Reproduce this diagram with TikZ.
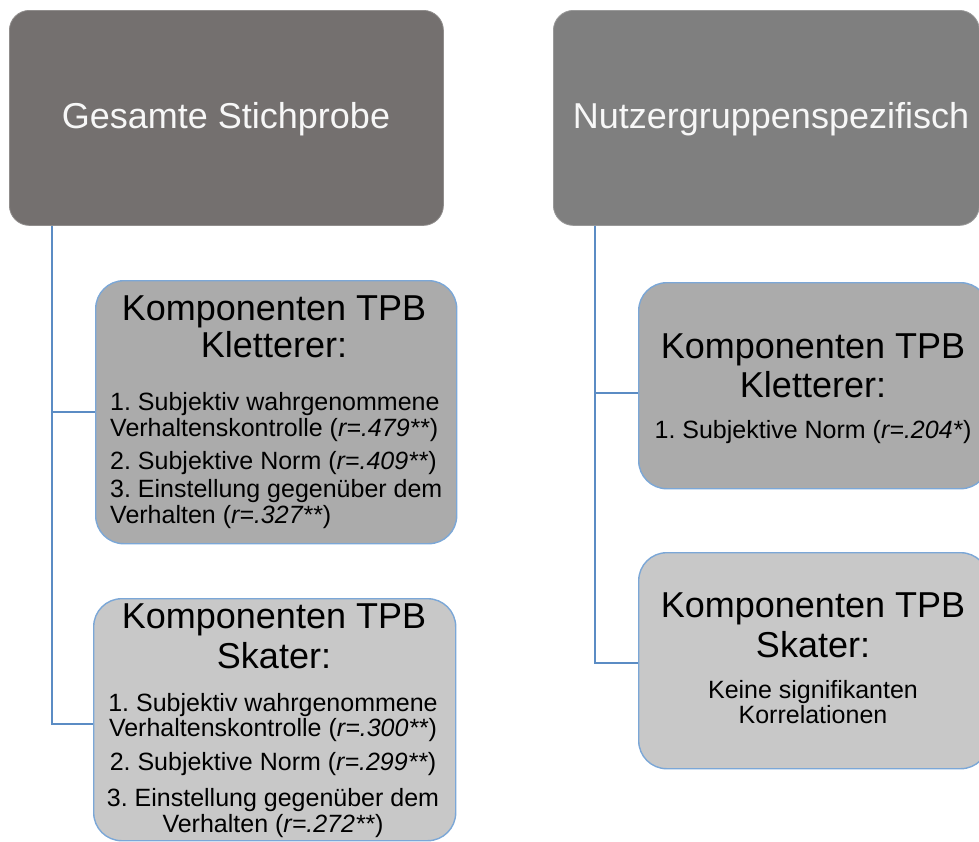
\documentclass[tikz,border=0pt]{standalone}
\usepackage{fontspec}
\setmainfont{Liberation Sans}
\frenchspacing
\definecolor{headA}{HTML}{74706F}
\definecolor{headB}{HTML}{7F7F7F}
\definecolor{boxK}{HTML}{ABABAB}
\definecolor{boxS}{HTML}{C8C8C8}
\definecolor{edgeblue}{HTML}{7BA7D7}
\definecolor{wireblue}{HTML}{5B8CC4}
\begin{document}
\begin{tikzpicture}[x=1pt,y=-1pt,
  headbox/.style={rectangle, rounded corners=20pt, anchor=north west, inner sep=0pt,
    fill=#1, draw=#1!80!white, line width=0.8pt},
  subbox/.style={rectangle, rounded corners=28pt, anchor=north west, inner sep=0pt,
    fill=#1, draw=edgeblue, line width=1.4pt},
  headtxt/.style={anchor=base, inner sep=0pt, text=white!97!black,
    font=\fontsize{36}{40}\selectfont},
  titletxt/.style={anchor=base, inner sep=0pt, font=\fontsize{36}{40}\selectfont},
  itemtxt/.style={anchor=base, inner sep=0pt, font=\fontsize{25}{27}\selectfont},
  leftitem/.style={itemtxt, anchor=base west},
  wire/.style={draw=wireblue, line width=1.7pt}]
\useasboundingbox (0,0) rectangle (979,841);

% top level boxes
\node[headbox=headA, minimum width=434pt, minimum height=215pt] (gesamt) at (9,10) {};
\node[headbox=headB, minimum width=426pt, minimum height=215pt] (nutzer) at (553,10) {};
\node[headtxt] (gesamtT) at (226,128) {Gesamte Stichprobe};
\node[headtxt] (nutzerT) at (771,128) {Nutzergruppenspezifisch};

% child boxes
\node[subbox=boxK, minimum width=361pt, minimum height=263pt] (kl) at (95,280) {};
\node[subbox=boxS, minimum width=362pt, minimum height=242pt] (sl) at (93,598) {};
\node[subbox=boxK, minimum width=350pt, minimum height=206pt] (kr) at (638,282) {};
\node[subbox=boxS, minimum width=350pt, minimum height=216pt] (sr) at (638,552) {};

% connectors
\draw[wire] ([xshift=43pt]gesamt.south west) |- (kl.west);
\draw[wire] ([xshift=43pt]gesamt.south west) |- ([yshift=-4pt]sl.west);
\draw[wire] ([xshift=42pt]nutzer.south west) |- ([yshift=-7pt]kr.west);
\draw[wire] ([xshift=42pt]nutzer.south west) |- ([yshift=-2pt]sr.west);

% Kletterer, gesamte Stichprobe
\node[titletxt] (klA) at (274,320) {Komponenten TPB};
\node[titletxt] (klB) at (274,357) {Kletterer:};
\node[leftitem] (kl1) at (110,410) {1. Subjektiv wahrgenommene};
\node[leftitem] (kl2) at (110,436) {Verhaltenskontrolle (\textit{r=.479**})};
\node[leftitem] (kl3) at (110,469) {2. Subjektive Norm (\textit{r=.409**})};
\node[leftitem] (kl4) at (110,497) {3. Einstellung gegenüber dem};
\node[leftitem] (kl5) at (110,523) {Verhalten (\textit{r=.327**})};

% Skater, gesamte Stichprobe
\node[titletxt] (slA) at (274,628) {Komponenten TPB};
\node[titletxt] (slB) at (274,668) {Skater:};
\node[itemtxt] (sl1) at (273,711) {1. Subjektiv wahrgenommene};
\node[itemtxt] (sl2) at (273,736) {Verhaltenskontrolle (\textit{r=.300**})};
\node[itemtxt] (sl3) at (273,770) {2. Subjektive Norm (\textit{r=.299**})};
\node[itemtxt] (sl4) at (273,806) {3. Einstellung gegenüber dem};
\node[itemtxt] (sl5) at (273,832) {Verhalten (\textit{r=.272**})};

% Kletterer, nutzergruppenspezifisch
\node[titletxt] (krA) at (813,358) {Komponenten TPB};
\node[titletxt] (krB) at (813,397) {Kletterer:};
\node[itemtxt] (kr1) at (813,438) {1. Subjektive Norm (\textit{r=.204*})};

% Skater, nutzergruppenspezifisch
\node[titletxt] (srA) at (813,617) {Komponenten TPB};
\node[titletxt] (srB) at (813,657) {Skater:};
\node[itemtxt] (sr1) at (813,698) {Keine signifikanten};
\node[itemtxt] (sr2) at (813,723) {Korrelationen};
\end{tikzpicture}
\end{document}
